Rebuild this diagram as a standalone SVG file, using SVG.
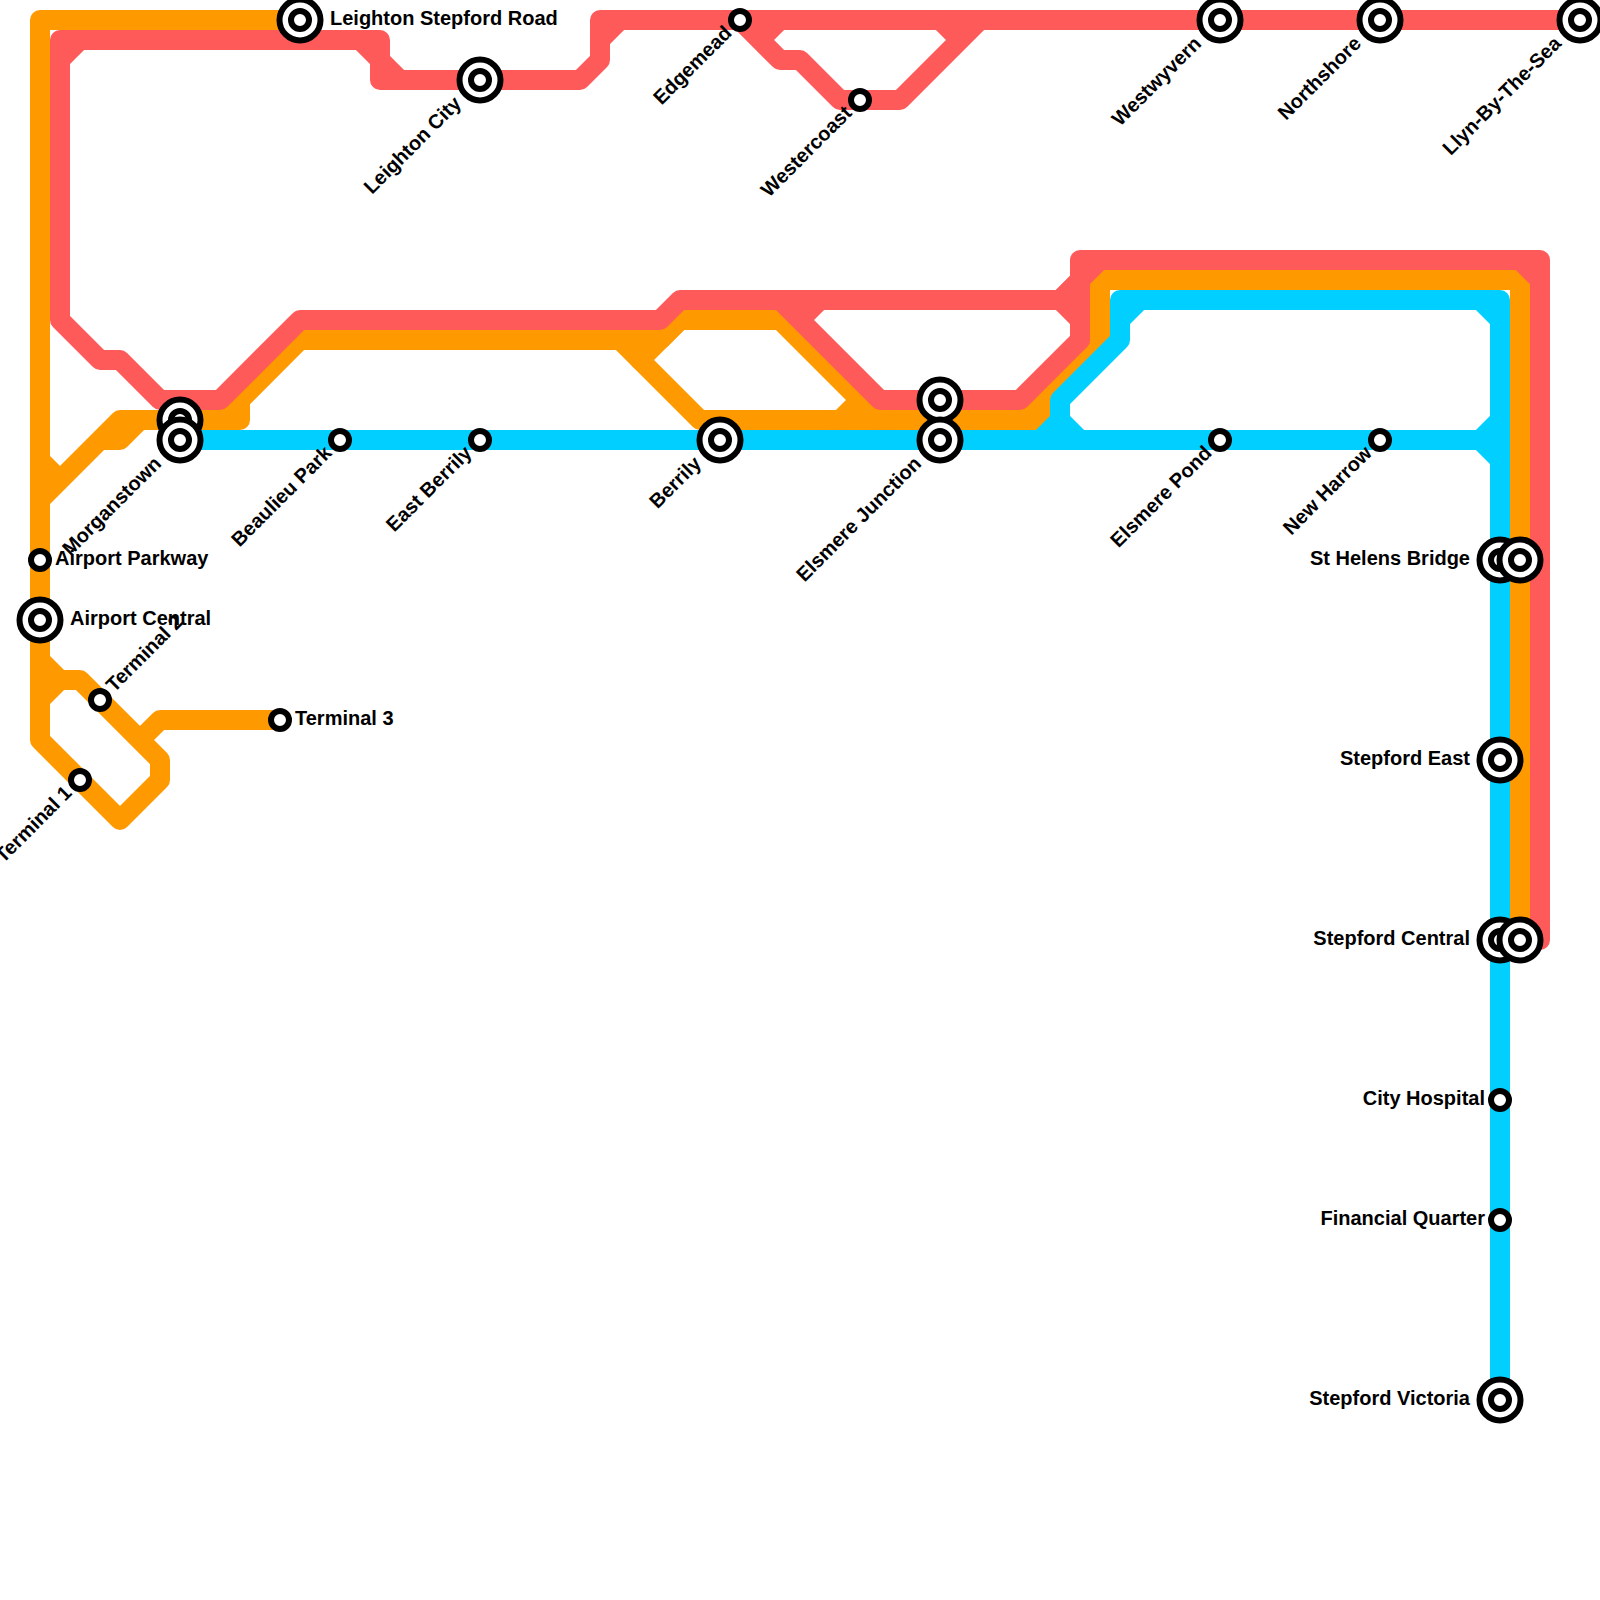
<svg xmlns="http://www.w3.org/2000/svg" width="1600" height="1600" viewBox="0 0 1600 1600">
<style>
.l{fill:none;stroke-width:20;stroke-linejoin:round;stroke-linecap:round}
.o{stroke:#FF9900}.r{stroke:#FF5A5A}.c{stroke:#00CFFF}
.ring{fill:#fff;stroke:#000;stroke-width:6}
.big{fill:#fff;stroke:#000;stroke-width:6}
text{font-family:"Liberation Sans",Arial,sans-serif;font-weight:700;font-size:20px;fill:#000}
.e{text-anchor:end}
</style>
<defs>
<g id="st"><circle class="big" r="20.5"/><circle class="ring" r="9"/></g>
<g id="sm"><circle class="ring" r="9"/></g>
</defs>
<rect width="1600" height="1600" fill="#fff"/>
<g id="connectors">
<path class="l o" d="M300 20H40V740L120 820L160 780V760L80 680H60L40 660M40 700L60 680M140 740L160 720H280"/>
<path class="l o" d="M40 460L60 480L100 440H120L140 420M40 500L120 420H240V400L300 340H660L680 320M220 420L300 340M620 340L700 420H1040V400L1100 340V280H1520V940M1020 420L1100 340"/>
<path class="l o" d="M640 360L680 320H780L880 420M860 400L840 420"/>
<path class="l r" d="M1540 940H1520M1540 940V260H1080V340M1080 280L1060 300H680L660 320H300L220 400H160L120 360H100L60 320V40H380V80H580L600 60V20H1580"/>
<path class="l r" d="M60 60L80 40M360 40L400 80M600 40L620 20M1060 300L1100 260M1520 260L1540 280"/>
<path class="l r" d="M740 20L780 60H800L840 100H900L980 20M760 40L780 20M940 20L960 40"/>
<path class="l r" d="M800 320L820 300H1060L1080 320V340L1020 400H880L780 300"/>
<path class="l c" d="M180 440H1500M1500 1400V300H1120V340L1060 400V420L1040 440M1060 420L1080 440M1120 320L1140 300M1480 300L1500 320M1480 440L1500 420M1480 440L1500 460"/>
</g>
<g id="morganstown-upper"><use href="#st" x="180" y="420"/></g>
<g id="morganstown"><use href="#st" x="180" y="440"/><text class="e" transform="translate(180 440) rotate(-45)" x="-30" y="5">Morganstown</text></g>
<g id="leighton-stepford-road"><use href="#st" x="300" y="20"/><text x="330" y="25">Leighton Stepford Road</text></g>
<g id="leighton-city"><use href="#st" x="480" y="80"/><text class="e" transform="translate(480 80) rotate(-45)" x="-30" y="5">Leighton City</text></g>
<g id="edgemead"><use href="#sm" x="740" y="20"/><text class="e" transform="translate(740 20) rotate(-45)" x="-15" y="5">Edgemead</text></g>
<g id="westercoast"><use href="#sm" x="860" y="100"/><text class="e" transform="translate(860 100) rotate(-45)" x="-15" y="5">Westercoast</text></g>
<g id="westwyvern"><use href="#st" x="1220" y="20"/><text class="e" transform="translate(1220 20) rotate(-45)" x="-30" y="5">Westwyvern</text></g>
<g id="northshore"><use href="#st" x="1380" y="20"/><text class="e" transform="translate(1380 20) rotate(-45)" x="-30" y="5">Northshore</text></g>
<g id="llyn-by-the-sea"><use href="#st" x="1580" y="20"/><text class="e" transform="translate(1580 20) rotate(-45)" x="-30" y="5">Llyn-By-The-Sea</text></g>
<g id="beaulieu-park"><use href="#sm" x="340" y="440"/><text class="e" transform="translate(340 440) rotate(-45)" x="-15" y="5">Beaulieu Park</text></g>
<g id="east-berrily"><use href="#sm" x="480" y="440"/><text class="e" transform="translate(480 440) rotate(-45)" x="-15" y="5">East Berrily</text></g>
<g id="berrily"><use href="#st" x="720" y="440"/><text class="e" transform="translate(720 440) rotate(-45)" x="-30" y="5">Berrily</text></g>
<g id="elsmere-upper"><use href="#st" x="940" y="400"/></g>
<g id="elsmere-junction"><use href="#st" x="940" y="440"/><text class="e" transform="translate(940 440) rotate(-45)" x="-30" y="5">Elsmere Junction</text></g>
<g id="elsmere-pond"><use href="#sm" x="1220" y="440"/><text class="e" transform="translate(1220 440) rotate(-45)" x="-15" y="5">Elsmere Pond</text></g>
<g id="new-harrow"><use href="#sm" x="1380" y="440"/><text class="e" transform="translate(1380 440) rotate(-45)" x="-15" y="5">New Harrow</text></g>
<g id="airport-parkway"><use href="#sm" x="40" y="560"/><text x="55" y="565">Airport Parkway</text></g>
<g id="airport-central"><use href="#st" x="40" y="620"/><text x="70" y="625">Airport Central</text></g>
<g id="terminal-2"><use href="#sm" x="100" y="700"/><text transform="translate(100 700) rotate(-45)" x="15" y="5">Terminal 2</text></g>
<g id="terminal-3"><use href="#sm" x="280" y="720"/><text x="295" y="725">Terminal 3</text></g>
<g id="terminal-1"><use href="#sm" x="80" y="780"/><text class="e" transform="translate(80 780) rotate(-45)" x="-15" y="5">Terminal 1</text></g>
<g id="st-helens-bridge"><use href="#st" x="1500" y="560"/><text class="e" x="1470" y="565">St Helens Bridge</text></g>
<g id="st-helens-bridge-2"><use href="#st" x="1520" y="560"/></g>
<g id="stepford-east"><use href="#st" x="1500" y="760"/><text class="e" x="1470" y="765">Stepford East</text></g>
<g id="stepford-central"><use href="#st" x="1500" y="940"/><text class="e" x="1470" y="945">Stepford Central</text></g>
<g id="stepford-central-2"><use href="#st" x="1520" y="940"/></g>
<g id="city-hospital"><use href="#sm" x="1500" y="1100"/><text class="e" x="1485" y="1105">City Hospital</text></g>
<g id="financial-quarter"><use href="#sm" x="1500" y="1220"/><text class="e" x="1485" y="1225">Financial Quarter</text></g>
<g id="stepford-victoria"><use href="#st" x="1500" y="1400"/><text class="e" x="1470" y="1405">Stepford Victoria</text></g>
</svg>
